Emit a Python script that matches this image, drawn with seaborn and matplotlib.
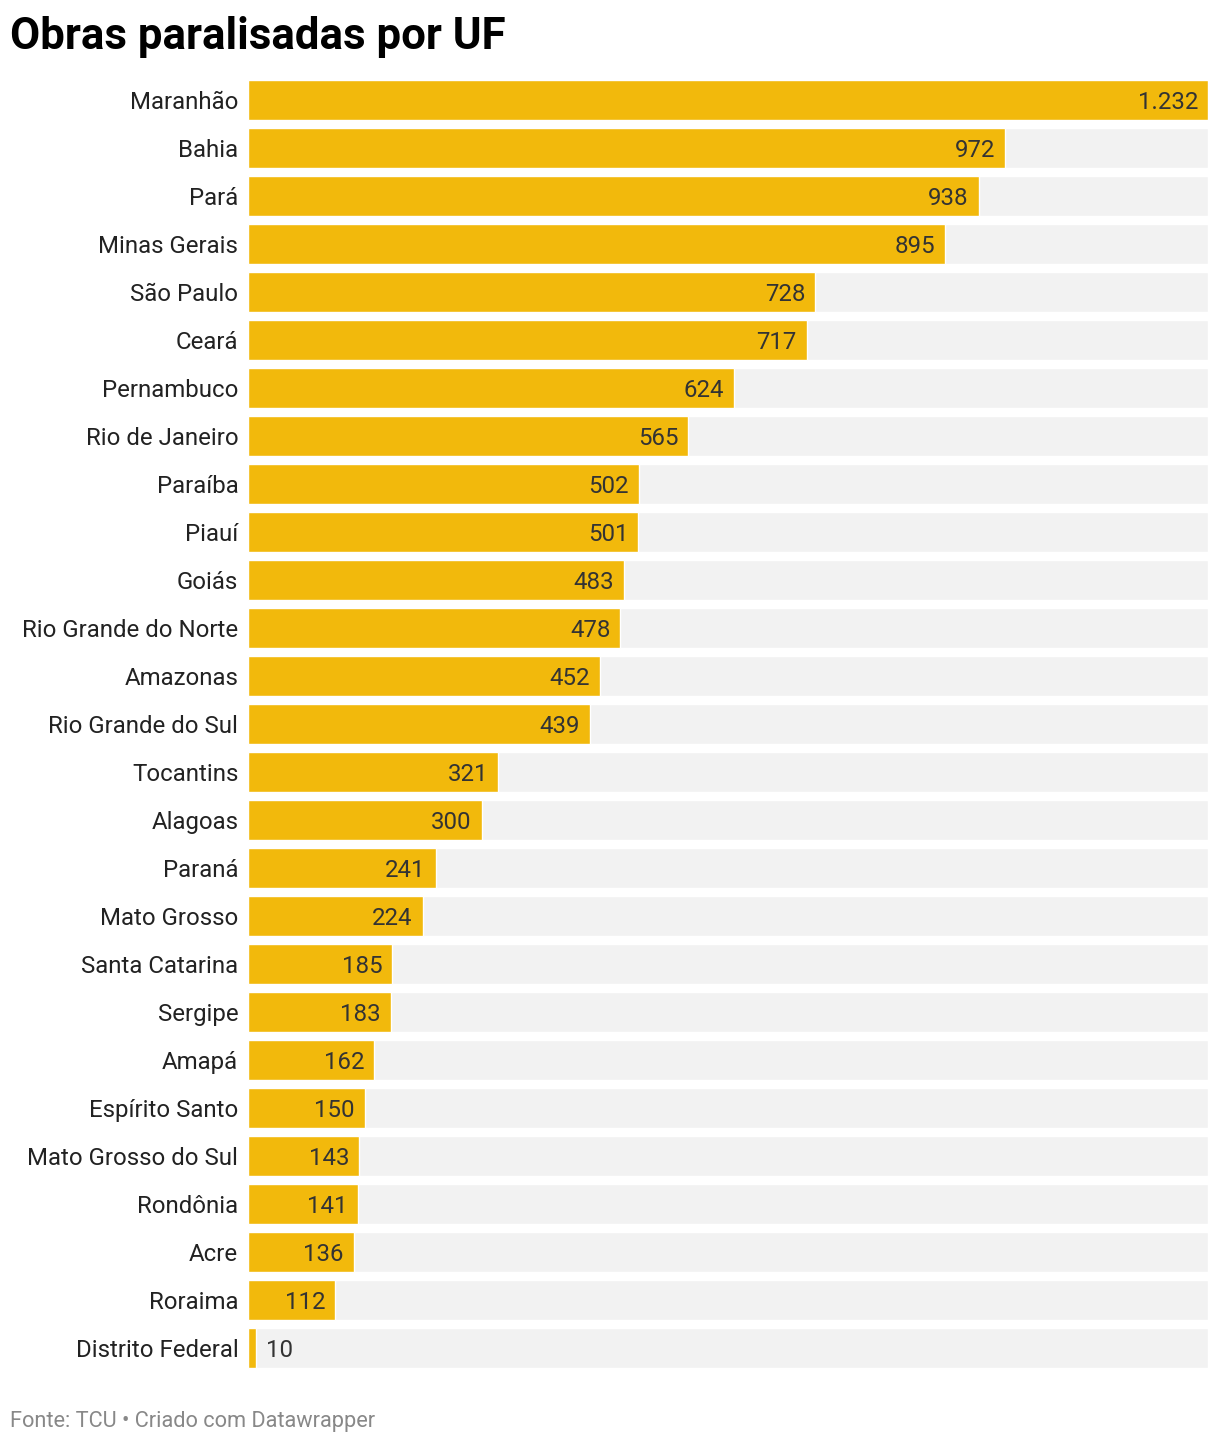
#!/usr/bin/env python3

""" Obras paralisadas por UF - horizontal bar chart
"""

import pandas as pd
import seaborn as sns
import matplotlib.pyplot as plt

# Data
estados = ['Maranhão', 'Bahia', 'Pará', 'Minas Gerais', 'São Paulo', 'Ceará',
           'Pernambuco', 'Rio de Janeiro', 'Paraíba', 'Piauí', 'Goiás',
           'Rio Grande do Norte', 'Amazonas', 'Rio Grande do Sul', 'Tocantins',
           'Alagoas', 'Paraná', 'Mato Grosso', 'Santa Catarina', 'Sergipe',
           'Amapá', 'Espírito Santo', 'Mato Grosso do Sul', 'Rondônia', 'Acre',
           'Roraima', 'Distrito Federal']
obras = [1232, 972, 938, 895, 728, 717, 624, 565, 502, 501, 483, 478, 452, 439,
         321, 300, 241, 224, 185, 183, 162, 150, 143, 141, 136, 112, 10]

df = pd.DataFrame({'UF': estados, 'Obras': obras})
df['Fundo'] = df['Obras'].max()

sns.set_style('white')
plt.rcParams['font.family'] = ['Roboto', 'DejaVu Sans']

W, H = 1220, 1444
fig = plt.figure(figsize=(W / 100, H / 100), dpi=100, facecolor='w')
ax = fig.add_axes([248 / W, 1 - 1372 / H, 960 / W, 1296 / H])

bar_h = 40 / 48

# Gray background bands
sns.barplot(data=df, x='Fundo', y='UF', orient='h', color='#f2f2f2',
            width=bar_h, ax=ax, saturation=1)
# Yellow value bars
sns.barplot(data=df, x='Obras', y='UF', orient='h', color='#f2b90c',
            width=bar_h, ax=ax, saturation=1)

ax.set_xlim(0, df['Obras'].max())
ax.set_ylim(len(df) - 0.5, -0.5)
ax.set_xlabel('')
ax.set_ylabel('')
ax.set_xticks([])
ax.tick_params(axis='y', length=0, pad=7, labelsize=17.3, labelcolor='#222222')
sns.despine(ax=ax, left=True, bottom=True, top=True, right=True)

# Value labels: inside the bar if it is wide enough, else just outside
px = df['Obras'].max() / 960
for i, v in enumerate(df['Obras']):
    txt = f'{v:,}'.replace(',', '.')
    if v / px > 60:
        ax.text(v - 10 * px, i, txt, ha='right', va='center_baseline',
                fontsize=17.3, color='#333333')
    else:
        ax.text(v + 10 * px, i, txt, ha='left', va='center_baseline',
                fontsize=17.3, color='#333333')

# Title and footer
fig.text(10 / W, 1 - 37 / H, 'Obras paralisadas por UF', fontsize=31.5,
         fontweight='bold', color='#000000', ha='left', va='center')
fig.text(10 / W, 1 - 1421 / H, 'Fonte: TCU • Criado com Datawrapper',
         fontsize=15.7, color='#888888', ha='left', va='center')

fig.savefig('out.png', dpi=100, facecolor='w')
